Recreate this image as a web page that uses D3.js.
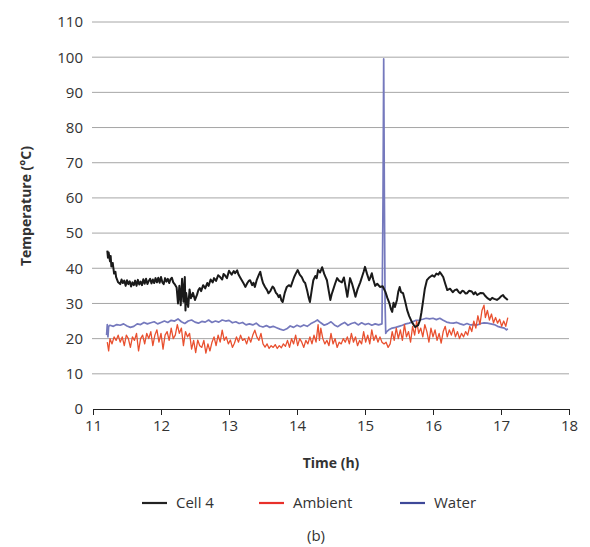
<!DOCTYPE html>
<html>
<head>
<meta charset="utf-8">
<script src="https://cdn.jsdelivr.net/npm/d3@7"></script>
<style>
  body { margin: 0; background: #fff; }
  svg text { font-family: "Open Sans", "Noto Sans", sans-serif; fill: #333; }
</style>
</head>
<body>
<div id="chart"></div>
<script>
// === DATA ===
const yTicks = [0, 10, 20, 30, 40, 50, 60, 70, 80, 90, 100, 110];
const xTicks = [11, 12, 13, 14, 15, 16, 17, 18];
const seriesNames = ["Cell 4", "Ambient", "Water"];

const cell4 = [
  [11.21,45],[11.22,43],[11.23,44.5],[11.25,42],[11.26,43.5],[11.27,40.5],[11.29,41.5],[11.31,38.5],[11.33,39],[11.34,37.5],[11.37,36],
  [11.40,35.5],[11.42,36.8],[11.44,35.8],[11.46,36.5],[11.48,35],[11.50,36.6],[11.52,35.5],[11.54,36.3],[11.56,34.8],[11.58,36],[11.60,35.2],
  [11.62,36.5],[11.64,35],[11.66,36.7],[11.68,35.4],[11.70,36.2],[11.72,35.2],[11.74,36.9],[11.76,35.6],[11.78,37],[11.80,35.5],[11.82,36.4],
  [11.84,37],[11.86,35.7],[11.88,36.8],[11.90,35.8],[11.92,37.2],[11.94,36],[11.96,37.3],[11.98,35.9],[12.00,37.5],
  [12.02,36],[12.04,35.5],[12.06,37.2],[12.08,36.2],[12.10,37],[12.12,35.8],[12.14,36.9],[12.16,37.3],[12.18,36],[12.20,35.5],[12.23,34.5],[12.25,30],[12.27,35],
  [12.29,29.5],[12.31,37],[12.33,30.5],[12.35,37.5],[12.36,28],[12.37,33],[12.39,30],[12.40,29],[12.42,34],[12.44,31.5],
  [12.47,33],[12.50,31],[12.53,32.5],[12.55,33.8],[12.57,34.4],[12.59,33.5],[12.62,35.2],[12.65,34.3],[12.68,35.8],[12.70,35],
  [12.73,36.8],[12.76,36],[12.78,37.2],[12.81,36.4],[12.84,38],[12.87,37.5],[12.90,36.8],[12.92,38.4],[12.94,38],[12.97,37.2],
  [13.00,39.3],[13.01,39],[13.04,38.2],[13.07,39.2],[13.09,38.6],[13.12,39.4],[13.14,38.2],[13.16,37.5],[13.19,36.5],
  [13.22,35.5],[13.24,34.7],[13.27,35.8],[13.29,36.4],[13.31,36.6],[13.34,35.2],[13.36,35.9],[13.38,34.7],[13.41,36.8],
  [13.44,38.2],[13.46,39],[13.48,37.2],[13.50,35.8],[13.53,34.7],[13.56,33.8],[13.58,32.9],[13.61,33.6],[13.64,34.8],
  [13.66,34.4],[13.69,33],[13.71,32.6],[13.73,31.8],[13.75,32.4],[13.77,30.9],[13.79,30.4],[13.82,33],[13.85,34.7],
  [13.88,35.2],[13.91,34.8],[13.93,36],[13.96,37.6],[13.98,38.4],[14.01,39.5],[14.04,38.2],[14.07,37.5],[14.10,36.2],[14.12,35.8],
  [14.15,33.6],[14.17,31.8],[14.19,30.4],[14.22,34.2],[14.24,36.6],[14.27,37.8],[14.29,37.2],[14.31,39.5],[14.34,38.8],[14.37,40.3],
  [14.40,38.4],[14.42,37.5],[14.44,36.6],[14.47,33.2],[14.49,31],[14.51,32.6],[14.53,33.8],[14.56,35.6],[14.59,37.2],[14.62,36.4],
  [14.66,36],[14.69,37.4],[14.71,35.2],[14.74,31.9],[14.76,34.6],[14.78,37.2],[14.81,35.6],[14.84,33.5],[14.86,31.9],[14.89,34],
  [14.93,36],[14.96,37.8],[14.98,39],[15.00,40.4],[15.03,38.4],[15.06,36.6],[15.08,37.4],[15.10,38.6],[15.12,36.9],
  [15.15,35],[15.18,35.6],[15.22,34.7],[15.26,34.9],[15.30,33.3],[15.33,31.5],[15.36,30],[15.38,28.5],[15.40,27.6],[15.42,30.2],[15.44,29],[15.47,31],[15.49,33.4],[15.51,34.7],
  [15.53,33.2],[15.56,32.9],[15.59,30.6],[15.62,28.1],[15.65,26.4],[15.69,24.7],[15.72,23.8],[15.74,23.3],[15.78,23.8],[15.81,25.3],[15.83,27.5],[15.85,30.1],[15.88,34.2],[15.91,36.6],
  [15.94,37.3],[15.99,38],[16.02,37.6],[16.05,38.5],[16.08,38.2],[16.10,38.9],[16.13,38.1],[16.15,37.5],[16.18,35.6],[16.21,33.8],[16.25,34.2],[16.29,33.2],[16.32,33.8],[16.35,34],[16.38,33.2],[16.40,32.9],
  [16.43,33.6],[16.45,33.5],[16.48,32.8],[16.50,32.9],[16.53,33.6],[16.57,33.4],[16.60,32.6],[16.62,33.2],[16.65,32.4],[16.70,33],[16.74,32.9],[16.77,32.1],[16.80,31.5],[16.84,31],
  [16.87,31.6],[16.90,31.3],[16.94,31],[16.97,31.4],[17.00,32],[17.03,32.4],[17.05,31.8],[17.07,31.5],[17.10,31]
];

const ambient = [
  [11.21,19],[11.23,16.5],[11.25,20],[11.28,18.5],[11.31,20.5],[11.34,19.5],[11.37,21],[11.40,19],
  [11.43,20.5],[11.46,18],[11.49,21],[11.52,20],[11.55,17.5],[11.58,20.5],[11.61,19.5],[11.64,21.5],
  [11.67,16.5],[11.70,20],[11.73,21],[11.76,18.5],[11.79,21.5],[11.82,20],[11.85,22],[11.88,18],
  [11.91,21],[11.94,22.5],[11.97,19],[12.00,21.5],[12.03,17],[12.06,21],[12.09,22],[12.12,19.5],
  [12.15,23],[12.18,20],[12.21,21],[12.24,24],[12.27,21.5],[12.30,23],[12.33,18],[12.36,22],
  [12.39,20.5],[12.42,21.5],[12.45,17],[12.48,19.5],[12.51,16],[12.54,19.6],[12.57,18],[12.60,17.5],
  [12.63,19.5],[12.66,15.9],[12.69,18.5],[12.72,16.5],[12.75,19],[12.78,20.5],[12.81,18],[12.84,21],
  [12.87,19],[12.90,22.4],[12.93,19.5],[12.96,20.5],[12.99,18.5],[13.02,19.6],[13.05,17.5],[13.08,18.7],
  [13.11,20.5],[13.14,19],[13.17,21],[13.20,19.5],[13.23,20],[13.26,18.5],[13.29,20.5],[13.32,19],
  [13.35,21],[13.38,22.4],[13.41,20.5],[13.44,19.5],[13.47,21.5],[13.50,18.5],[13.53,17.6],[13.56,18.5],
  [13.59,17.2],[13.62,18],[13.65,17.5],[13.68,18.3],[13.71,17.2],[13.74,18],[13.77,17.4],[13.80,18.5],
  [13.83,17.8],[13.86,19.5],[13.89,17.5],[13.92,20],[13.95,18.5],[13.98,21],[14.01,18],[14.04,20],
  [14.07,19],[14.10,17.5],[14.13,19.5],[14.16,18.5],[14.19,20.5],[14.22,18.5],[14.25,21],[14.28,19],
  [14.31,24],[14.33,19.5],[14.35,23],[14.38,20],[14.41,18.5],[14.44,19.5],[14.47,18],[14.50,21.5],
  [14.53,18.5],[14.56,20],[14.59,17.5],[14.62,19],[14.65,18.5],[14.68,20],[14.71,19],[14.74,20.5],
  [14.77,18.5],[14.80,21.5],[14.83,19],[14.86,20.5],[14.89,18],[14.92,19.5],[14.95,18.5],[14.98,22],
  [15.01,19],[15.04,21],[15.07,18.5],[15.10,22.5],[15.13,19.5],[15.16,21],[15.19,19],[15.22,20.5],
  [15.25,19],[15.28,18.5],[15.31,19],[15.34,17.5],[15.37,18.5],[15.40,22],[15.43,19.5],[15.46,23],
  [15.49,20],[15.52,22.5],[15.55,19.5],[15.58,24],[15.61,20.5],[15.64,22],[15.67,19],[15.70,23.5],
  [15.73,21],[15.76,25],[15.79,21.5],[15.82,23],[15.85,20.5],[15.88,24],[15.91,22],[15.94,19],
  [15.97,23],[16.00,20.5],[16.03,22.5],[16.06,19.5],[16.09,21.5],[16.12,18.7],[16.15,22],[16.18,23.5],
  [16.21,20.5],[16.24,22.5],[16.27,21],[16.30,23],[16.33,20.5],[16.36,22],[16.39,20],[16.42,21.5],
  [16.45,20.5],[16.48,22],[16.51,21],[16.54,23.5],[16.57,22],[16.60,25],[16.63,23],[16.66,26.5],
  [16.69,24],[16.72,28],[16.75,29.5],[16.77,26],[16.80,28],[16.83,25.3],[16.86,27],[16.89,24.5],
  [16.92,26],[16.95,24.4],[16.98,25.5],[17.01,23.5],[17.04,25],[17.07,23.5],[17.10,26]
];

const water = [
  [11.20,21],[11.21,24],[11.22,20.5],[11.23,23.5],[11.25,23.8],[11.30,23.5],[11.35,24],[11.40,23.8],
  [11.45,24.2],[11.50,23.6],[11.55,23.2],[11.60,23.5],[11.65,24.2],[11.70,24],[11.75,24.6],[11.80,24.2],
  [11.85,24.5],[11.90,24.8],[11.95,24.2],[12.00,24.6],[12.05,25],[12.10,24.6],[12.15,25.2],[12.20,25],
  [12.25,25.6],[12.30,24.8],[12.35,24.3],[12.40,25],[12.45,25.3],[12.50,24.7],[12.55,24.4],[12.60,24.9],
  [12.65,24.7],[12.70,25.3],[12.75,24.6],[12.80,25],[12.85,24.7],[12.90,25.3],[12.95,25],[13.00,25.2],
  [13.05,24.5],[13.10,24.8],[13.15,24.3],[13.20,24.6],[13.25,23.9],[13.30,24.2],[13.35,23.9],[13.40,24.4],
  [13.45,23.6],[13.50,23.3],[13.55,23.7],[13.60,23.2],[13.65,23.5],[13.70,23.1],[13.75,22.7],[13.80,22.4],
  [13.85,22.8],[13.90,23.6],[13.95,23.2],[14.00,23.8],[14.05,23.4],[14.10,23.9],[14.15,23.5],[14.20,24.2],
  [14.25,24.7],[14.30,25.3],[14.35,24.5],[14.40,23.8],[14.45,24.2],[14.50,24.8],[14.55,23.9],[14.60,23.4],
  [14.65,24.1],[14.70,24.6],[14.75,23.8],[14.80,24.3],[14.85,24.6],[14.90,23.9],[14.95,24.5],[15.00,24],
  [15.05,24.3],[15.10,23.8],[15.15,24.2],[15.20,23.9],[15.25,24.2],[15.265,60],[15.275,99.5],[15.285,60],
  [15.295,30],[15.305,21.5],[15.32,22],[15.35,22.5],[15.40,23],[15.45,23.2],[15.50,23.5],[15.55,23.8],
  [15.60,24.2],[15.65,24.4],[15.70,24.8],[15.75,25.2],[15.80,25.3],[15.85,25.5],[15.90,25.8],[15.95,25.6],
  [16.00,25.8],[16.05,25.4],[16.10,25.8],[16.15,25.2],[16.20,24.7],[16.25,24.5],[16.30,24.4],[16.35,24.6],
  [16.40,24.2],[16.45,23.9],[16.50,24.3],[16.55,23.9],[16.60,24],[16.65,23.9],[16.70,24.3],[16.75,24.5],
  [16.80,24.4],[16.85,24.2],[16.90,24],[16.95,23.5],[17.00,23.2],[17.05,23],[17.08,22.5],[17.10,22.8]
];

// === CHART ===
const width = 590, height = 547;
const margin = { left: 93, right: 21, top: 22, bottom: 138 };
const plotW = width - margin.left - margin.right;
const plotH = height - margin.top - margin.bottom;

const svg = d3.select("#chart").append("svg").attr("width", width).attr("height", height);
const g = svg.append("g").attr("transform", `translate(${margin.left},${margin.top})`);

const x = d3.scaleLinear().domain([11, 18]).range([0, plotW]);
const y = d3.scaleLinear().domain([0, 110]).range([plotH, 0]);

// gridlines
g.selectAll(".grid")
  .data(yTicks.filter(d => d > 0))
  .join("line")
  .attr("x1", -1).attr("x2", plotW)
  .attr("y1", d => y(d)).attr("y2", d => y(d))
  .attr("stroke", "#a6a6a6").attr("stroke-width", 1);

// y labels
g.selectAll(".ylab")
  .data(yTicks)
  .join("text")
  .attr("x", -10).attr("y", d => y(d)).attr("dy", "0.36em")
  .attr("text-anchor", "end").style("font-size", "15px")
  .text(d => d);

// x axis
const xAxis = g.append("g").attr("transform", `translate(0,${plotH})`)
  .call(d3.axisBottom(x).tickValues(xTicks).tickFormat(d3.format("d"))
    .tickSize(6).tickSizeOuter(0).tickPadding(5));
xAxis.select(".domain").attr("stroke", "#222");
xAxis.selectAll(".tick line").attr("stroke", "#222");
xAxis.selectAll("text").style("font-size", "15px")
  .style("font-family", "'Open Sans', 'Noto Sans', sans-serif").attr("fill", "#333");

// lines
const line = d3.line().x(d => x(d[0])).y(d => y(d[1]));
g.append("path").datum(water).attr("d", line)
  .attr("fill", "none").attr("stroke", "#7579bd").attr("stroke-width", 1.7).attr("stroke-linejoin", "round");
g.append("path").datum(ambient).attr("d", line)
  .attr("fill", "none").attr("stroke", "#e9502f").attr("stroke-width", 1.3).attr("stroke-linejoin", "round");
g.append("path").datum(cell4).attr("d", line)
  .attr("fill", "none").attr("stroke", "#1a1a1a").attr("stroke-width", 2).attr("stroke-linejoin", "round");

// axis titles
svg.append("text")
  .attr("transform", "translate(31,206) rotate(-90)")
  .attr("text-anchor", "middle").style("font-size", "14px").style("font-weight", "bold")
  .attr("fill", "#222").text("Temperature (°C)");
svg.append("text")
  .attr("x", margin.left + plotW / 2).attr("y", 468)
  .attr("text-anchor", "middle").style("font-size", "14px").style("font-weight", "bold")
  .attr("fill", "#222").text("Time (h)");

// legend
const legendColors = ["#222222", "#e8302a", "#3e4898"];
const legendX = [142, 259, 400];
seriesNames.forEach((name, i) => {
  svg.append("line")
    .attr("x1", legendX[i]).attr("x2", legendX[i] + 25)
    .attr("y1", 503).attr("y2", 503)
    .attr("stroke", legendColors[i]).attr("stroke-width", 2.2);
  svg.append("text")
    .attr("x", legendX[i] + 34).attr("y", 508)
    .style("font-size", "15px").text(name);
});

svg.append("text")
  .attr("x", 316).attr("y", 541)
  .attr("text-anchor", "middle").style("font-size", "15px").text("(b)");
</script>
</body>
</html>
